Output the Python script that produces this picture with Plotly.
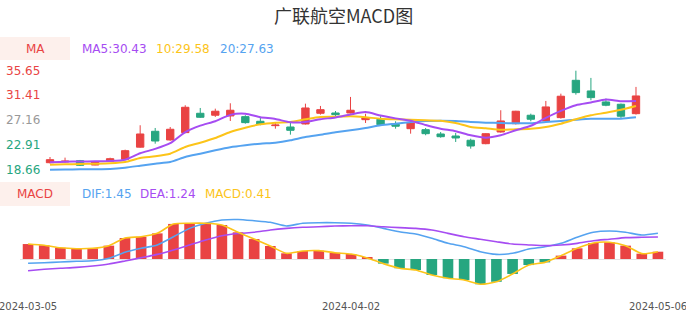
import plotly.graph_objects as go

W, H = 686, 320

dates = ["2024-03-05", "2024-03-06", "2024-03-07", "2024-03-08", "2024-03-11", "2024-03-12",
         "2024-03-13", "2024-03-14", "2024-03-15", "2024-03-18", "2024-03-19", "2024-03-20",
         "2024-03-21", "2024-03-22", "2024-03-25", "2024-03-26", "2024-03-27", "2024-03-28",
         "2024-03-29", "2024-04-01", "2024-04-02", "2024-04-03", "2024-04-08", "2024-04-09",
         "2024-04-10", "2024-04-11", "2024-04-12", "2024-04-15", "2024-04-16", "2024-04-17",
         "2024-04-18", "2024-04-19", "2024-04-22", "2024-04-23", "2024-04-24", "2024-04-25",
         "2024-04-26", "2024-04-29", "2024-04-30", "2024-05-06"]

open_ = [19.83, 19.95, 20.17, 19.43, 20.07, 20.42, 22.50, 25.23, 23.74, 25.00,
         28.33, 27.99, 27.87, 27.75, 26.95, 26.20, 25.97, 26.49, 28.33, 28.38,
         28.38, 27.23, 27.30, 26.44, 25.68, 25.51, 24.77, 24.42, 23.69, 23.10,
         25.11, 26.54, 27.99, 27.01, 27.58, 34.00, 32.17, 30.28, 29.88, 28.26]
high = [20.81, 20.70, 20.30, 20.05, 20.69, 22.07, 26.27, 25.80, 25.97, 29.71,
        29.24, 29.12, 30.05, 27.99, 27.70, 26.66, 26.66, 29.98, 29.59, 28.72,
        31.14, 28.26, 27.82, 26.95, 26.80, 25.80, 25.11, 24.94, 23.96, 24.90,
        28.85, 28.75, 28.26, 30.45, 31.70, 35.65, 34.41, 30.85, 30.00, 32.86]
low = [19.70, 19.88, 19.26, 19.40, 20.00, 20.30, 22.40, 23.10, 23.60, 24.90,
       27.52, 27.70, 27.00, 26.54, 26.27, 25.68, 24.65, 26.40, 28.10, 27.82,
       28.30, 26.66, 26.30, 25.68, 24.82, 24.55, 24.13, 23.39, 22.24, 23.00,
       25.00, 26.40, 26.95, 26.90, 27.40, 31.53, 30.57, 29.54, 27.52, 28.10]
close = [20.35, 20.10, 19.38, 20.00, 20.52, 21.90, 24.77, 23.56, 25.58, 29.36,
         27.64, 28.68, 28.85, 26.72, 26.49, 26.30, 25.40, 29.24, 28.95, 28.09,
         28.85, 27.52, 26.37, 26.10, 26.66, 24.82, 24.30, 24.08, 22.70, 24.82,
         27.01, 28.68, 27.30, 29.42, 31.26, 31.88, 31.02, 29.71, 27.82, 31.31]

ma5 = [19.90, 20.00, 20.04, 20.07, 20.12, 20.35, 21.45, 22.20, 23.18, 25.10,
       26.20, 26.96, 28.05, 28.25, 27.66, 27.35, 26.78, 26.83, 27.30, 27.62,
       28.12, 28.53, 27.95, 27.45, 27.05, 26.30, 25.68, 25.25, 24.55, 24.14,
       24.55, 25.40, 26.18, 27.55, 28.75, 29.72, 30.18, 30.70, 30.40, 30.43]
ma10 = [19.49, 19.55, 19.61, 19.66, 19.74, 19.95, 20.64, 20.93, 21.38, 22.53,
        23.27, 24.08, 25.11, 25.85, 26.43, 26.71, 26.83, 27.29, 27.69, 27.72,
        27.81, 27.64, 27.40, 27.29, 27.22, 27.12, 27.05, 26.66, 25.97, 25.75,
        25.50, 25.57, 25.68, 25.97, 26.54, 27.29, 27.98, 28.43, 28.94, 29.58]
ma20 = [18.63, 18.66, 18.69, 18.71, 18.75, 18.97, 19.31, 19.66, 19.95, 20.81,
        21.38, 21.96, 22.48, 22.82, 23.10, 23.27, 23.68, 24.25, 24.64, 25.06,
        25.40, 25.80, 26.26, 26.54, 26.83, 27.00, 27.05, 27.00, 26.83, 26.71,
        26.66, 26.61, 26.61, 26.83, 27.00, 27.22, 27.40, 27.40, 27.40, 27.63]

dif = [-0.24, -0.21, -0.17, -0.13, -0.10, 0.04, 0.38, 0.60, 0.79, 1.25,
       1.72, 2.01, 2.19, 2.22, 2.15, 2.06, 1.85, 2.01, 2.04, 2.04,
       2.01, 1.91, 1.72, 1.53, 1.40, 1.16, 0.88, 0.69, 0.41, 0.26,
       0.32, 0.56, 0.69, 0.88, 1.22, 1.50, 1.57, 1.50, 1.35, 1.45]
dea = [-0.66, -0.58, -0.52, -0.47, -0.39, -0.28, -0.11, 0.07, 0.26, 0.51,
       0.79, 1.07, 1.31, 1.43, 1.50, 1.63, 1.72, 1.78, 1.81, 1.85,
       1.87, 1.87, 1.81, 1.76, 1.72, 1.63, 1.44, 1.25, 1.11, 0.97,
       0.84, 0.79, 0.75, 0.79, 0.88, 1.03, 1.11, 1.20, 1.22, 1.24]
macd = [0.84, 0.77, 0.63, 0.58, 0.60, 0.75, 1.18, 1.25, 1.44, 1.97,
        2.01, 2.01, 1.91, 1.50, 1.12, 0.73, 0.32, 0.45, 0.47, 0.35,
        0.28, 0.06, -0.26, -0.52, -0.62, -0.90, -1.08, -1.18, -1.42, -1.28,
        -0.84, -0.34, -0.19, 0.19, 0.60, 0.90, 0.94, 0.75, 0.30, 0.41]

price_ticks = [35.65, 31.41, 27.16, 22.91, 18.66]
xlabel_dates = ["2024-03-05", "2024-04-02", "2024-05-06"]

RED = "#e94343"
GREEN = "#27a680"
GRAY = "#999999"
PURPLE = "#a64cf2"
YELLOW = "#fcc419"
BLUE = "#55a3f0"
BADGE = "#fdf0ec"


def px(x):
    return x / W


def py(y):
    return 1 - y / H


# main panel geometry (pixels)
m_top, m_bot = 66, 174
k_main = (169.5 - 70.7) / (price_ticks[0] - price_ticks[-1])
y_main_top = price_ticks[0] + (70.7 - m_top) / k_main
y_main_bot = price_ticks[-1] - (m_bot - 169.5) / k_main

# macd panel geometry
d_top, d_bot, zero_px, k_macd = 215, 290, 259, 17.8
y2_top = (zero_px - d_top) / k_macd
y2_bot = -(d_bot - zero_px) / k_macd

fig = go.Figure()

fig.add_trace(go.Candlestick(
    x=dates, open=open_, high=high, low=low, close=close,
    increasing=dict(line=dict(color=RED, width=1), fillcolor=RED),
    decreasing=dict(line=dict(color=GREEN, width=1), fillcolor=GREEN),
    xaxis="x", yaxis="y", showlegend=False, hoverinfo="skip"))

for vals, col in [(ma20, BLUE), (ma10, YELLOW), (ma5, PURPLE)]:
    fig.add_trace(go.Scatter(x=dates, y=vals, mode="lines",
                             line=dict(color=col, width=2, shape="spline", smoothing=0.6),
                             xaxis="x", yaxis="y", showlegend=False, hoverinfo="skip"))

fig.add_trace(go.Bar(x=dates, y=macd, width=0.66,
                     marker=dict(color=[RED if v >= 0 else GREEN for v in macd], line=dict(width=0)),
                     xaxis="x2", yaxis="y2", showlegend=False, hoverinfo="skip"))
for vals, col in [(dif, BLUE), (dea, PURPLE), (macd, YELLOW)]:
    fig.add_trace(go.Scatter(x=dates, y=vals, mode="lines",
                             line=dict(color=col, width=1.6, shape="spline", smoothing=0.6),
                             xaxis="x2", yaxis="y2", showlegend=False, hoverinfo="skip"))

ann = []
FONT = "DejaVu Sans"
# title
ann.append(dict(text="广联航空MACD图", x=px(343), y=py(15), xref="paper", yref="paper",
                xanchor="center", yanchor="middle", showarrow=False,
                font=dict(family="Noto Sans CJK SC", size=18, color="#333333")))
# MA legend
ann.append(dict(text="MA", x=px(35), y=py(49), xref="paper", yref="paper", xanchor="center",
                yanchor="middle", showarrow=False, font=dict(family=FONT, size=12, color=RED)))
for txt, x0, col in [(f"MA5:{ma5[-1]:.2f}", 80, PURPLE), (f"10:{ma10[-1]:.2f}", 154, YELLOW),
                     (f"20:{ma20[-1]:.2f}", 218, BLUE)]:
    ann.append(dict(text=txt, x=px(x0), y=py(49), xref="paper", yref="paper", xanchor="left",
                    yanchor="middle", showarrow=False, font=dict(family=FONT, size=12, color=col)))
# MACD legend
ann.append(dict(text="MACD", x=px(35), y=py(193.5), xref="paper", yref="paper", xanchor="center",
                yanchor="middle", showarrow=False, font=dict(family=FONT, size=12, color=RED)))
for txt, x0, col in [(f"DIF:{dif[-1]:.2f}", 80, BLUE), (f"DEA:{dea[-1]:.2f}", 138, PURPLE),
                     (f"MACD:{macd[-1]:.2f}", 203, YELLOW)]:
    ann.append(dict(text=txt, x=px(x0), y=py(193.5), xref="paper", yref="paper", xanchor="left",
                    yanchor="middle", showarrow=False, font=dict(family=FONT, size=12, color=col)))
# price axis labels
mid = price_ticks[len(price_ticks) // 2]
for v in price_ticks:
    col = RED if v > mid else (GREEN if v < mid else GRAY)
    ann.append(dict(text=f"{v:.2f}", x=px(42), y=v, xref="paper", yref="y", xanchor="right",
                    yanchor="middle", showarrow=False, font=dict(family=FONT, size=12, color=col)))
# date labels
for d in xlabel_dates:
    ann.append(dict(text=d, x=d, y=py(306), xref="x2", yref="paper", xanchor="center",
                    yanchor="middle", showarrow=False, font=dict(family=FONT, size=10, color="#555555")))

shapes = [
    dict(type="rect", xref="paper", yref="paper", x0=0, x1=px(70), y0=py(60), y1=py(37),
         fillcolor=BADGE, line=dict(width=0), layer="below"),
    dict(type="rect", xref="paper", yref="paper", x0=0, x1=px(70), y0=py(206), y1=py(182),
         fillcolor=BADGE, line=dict(width=0), layer="below"),
]

fig.update_layout(
    width=W, height=H, margin=dict(l=0, r=0, t=0, b=0),
    paper_bgcolor="white", plot_bgcolor="white",
    showlegend=False, annotations=ann, shapes=shapes,
    bargap=0.3,
    xaxis=dict(domain=[px(42.5), px(643.5)], type="category", range=[-0.5, 39.5],
               visible=False, rangeslider=dict(visible=False), anchor="y"),
    yaxis=dict(domain=[py(m_bot), py(m_top)], range=[y_main_bot, y_main_top],
               visible=False, anchor="x"),
    xaxis2=dict(domain=[px(20), px(666)], type="category", range=[-0.5, 39.5],
                showticklabels=False, showgrid=False, zeroline=False, showline=False,
                ticks="", anchor="y2"),
    yaxis2=dict(domain=[py(d_bot), py(d_top)], range=[y2_bot, y2_top],
                showticklabels=False, showgrid=False, zeroline=True,
                zerolinecolor="#e3e3e3", zerolinewidth=1, showline=False, ticks="", anchor="x2"),
)

fig.write_html("out.html")
